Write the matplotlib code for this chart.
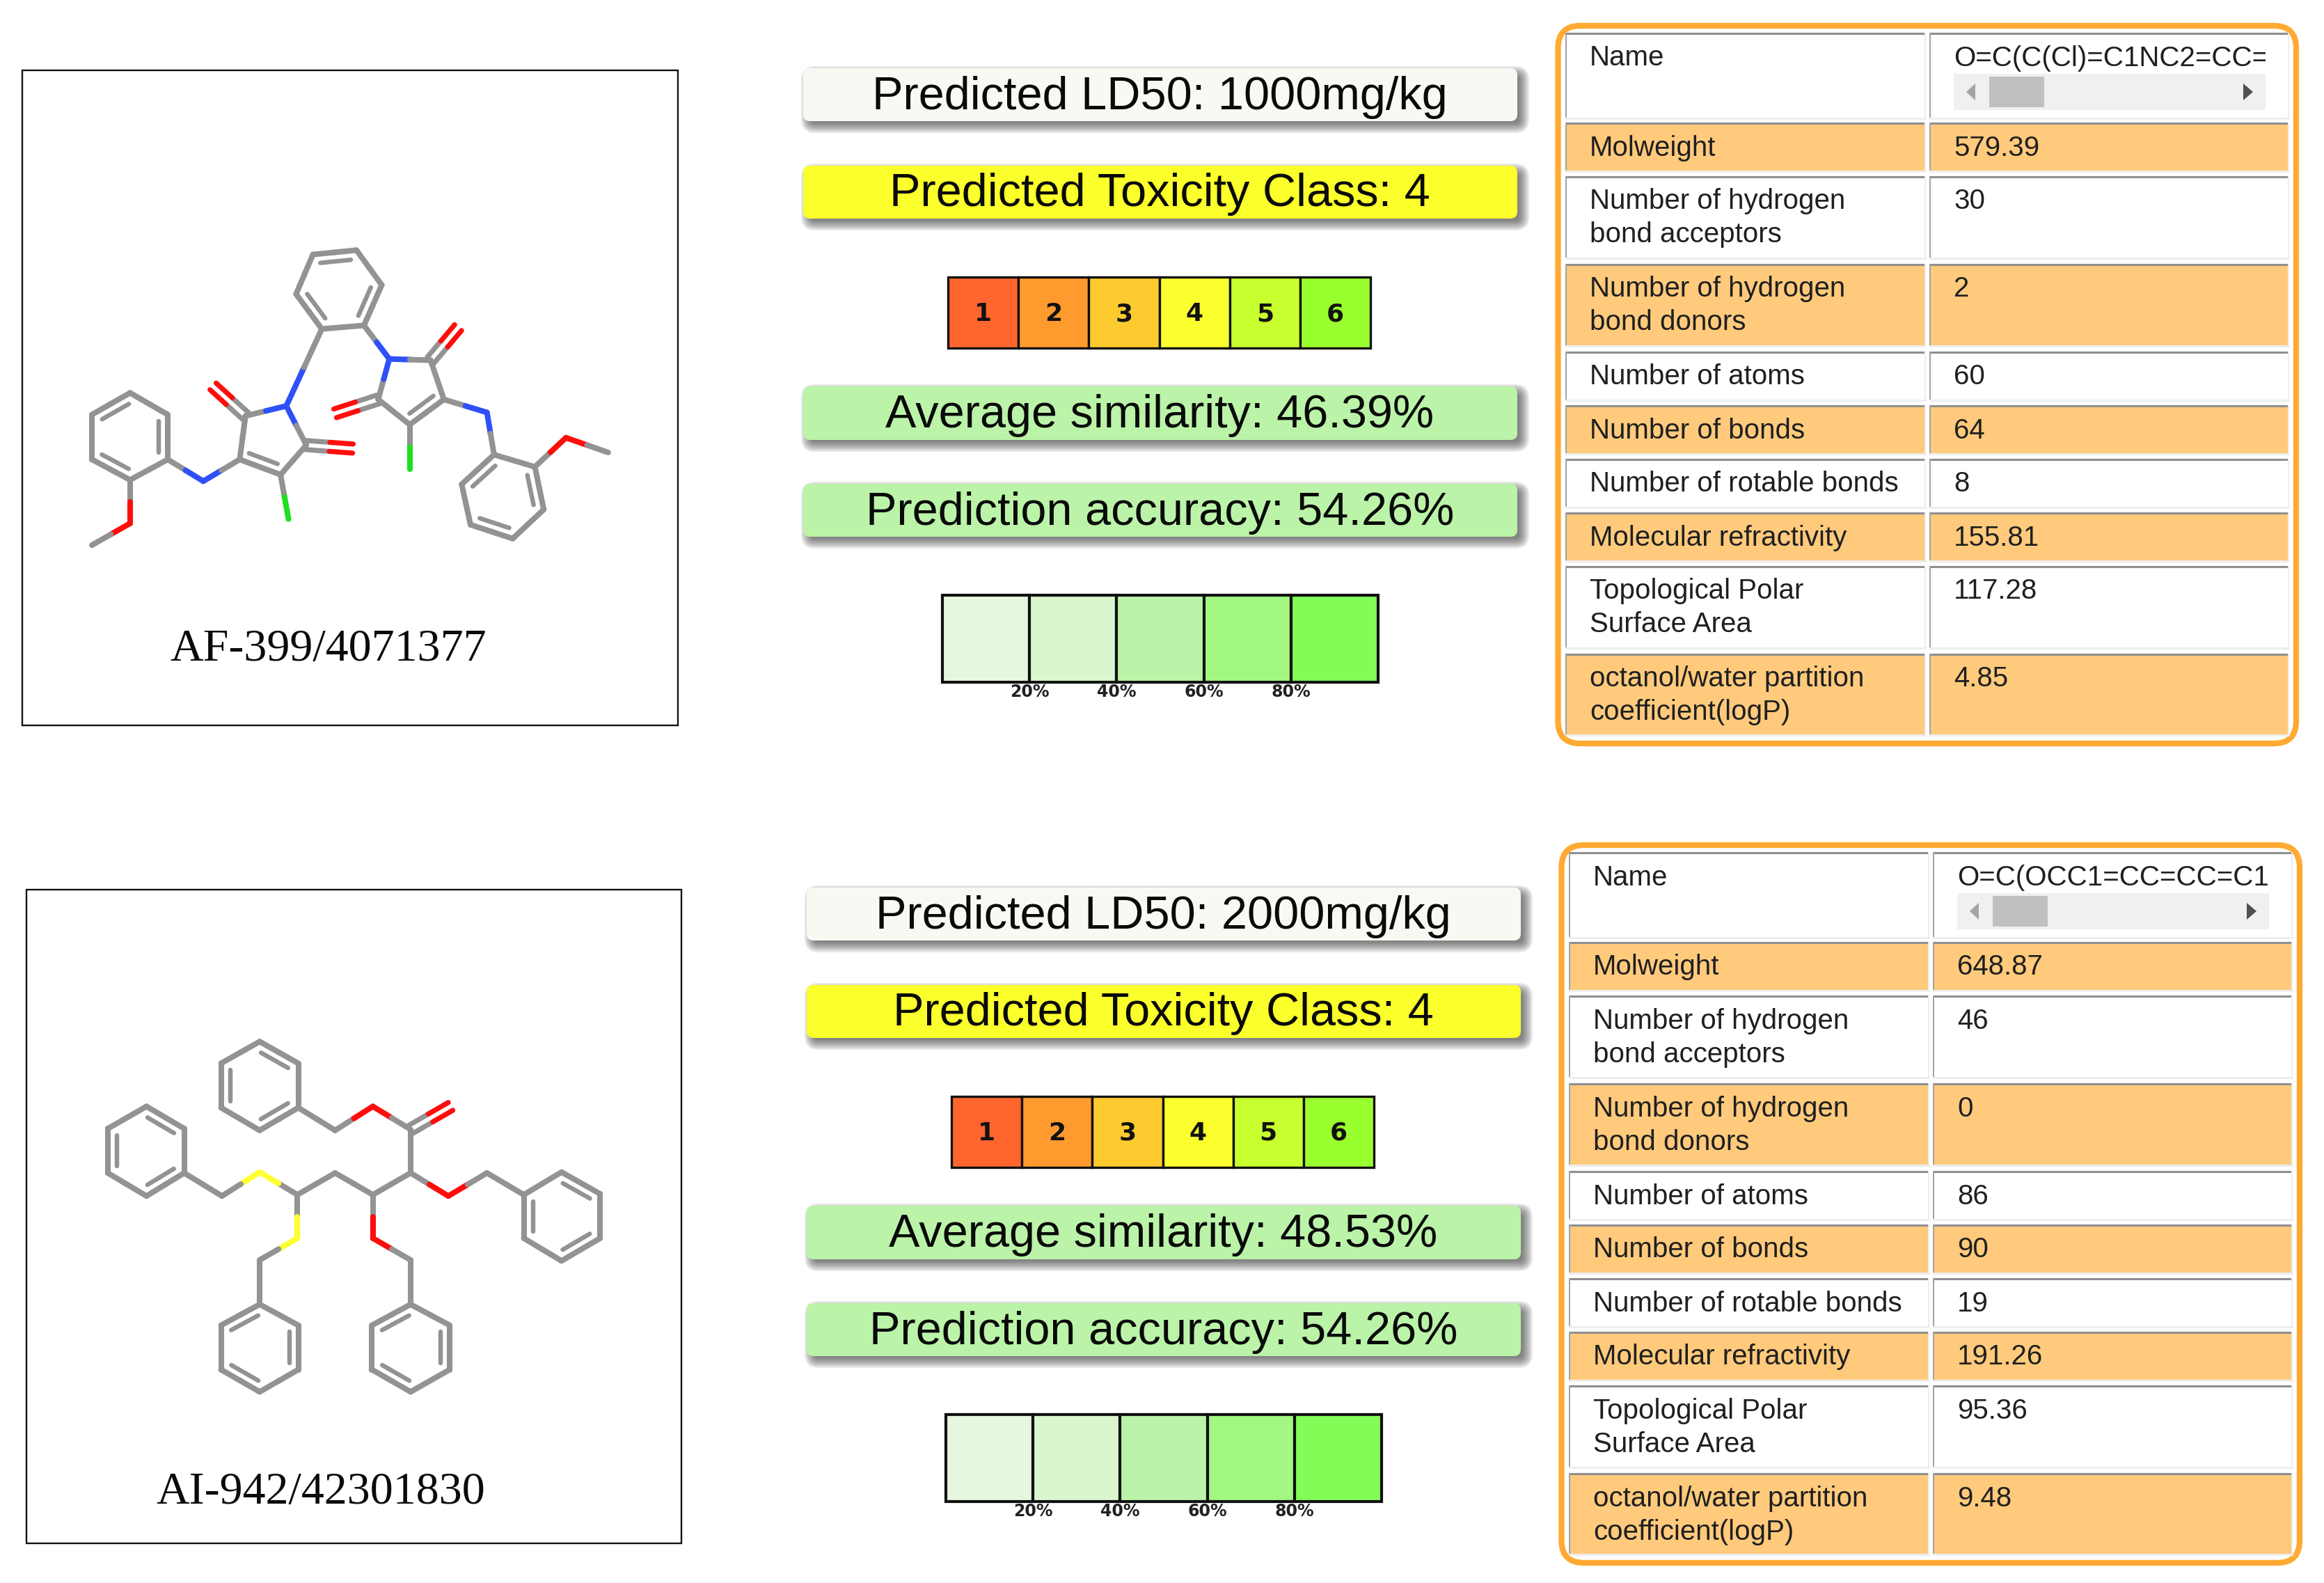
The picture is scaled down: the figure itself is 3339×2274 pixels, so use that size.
import matplotlib
matplotlib.use('Agg')
import matplotlib.pyplot as plt
from matplotlib.patches import Rectangle, FancyBboxPatch, Polygon

W, H = 3339, 2274
SANS = 'Liberation Sans'
SERIF = 'Liberation Serif'

# ---- values ----
row_labels = ['Name', 'Molweight', 'Number of hydrogen\nbond acceptors',
              'Number of hydrogen\nbond donors', 'Number of atoms',
              'Number of bonds', 'Number of rotable bonds',
              'Molecular refractivity', 'Topological Polar\nSurface Area',
              'octanol/water partition\ncoefficient(logP)']
values_top = ['O=C(C(Cl)=C1NC2=CC=CC=C2', '579.39', '30', '2', '60', '64', '8',
              '155.81', '117.28', '4.85']
values_bottom = ['O=C(OCC1=CC=CC=C1)C(OCC', '648.87', '46', '0', '86', '90', '19',
                 '191.26', '95.36', '9.48']
ld50 = ['1000', '2000']
tox_class = [4, 4]
similarity = ['46.39', '48.53']
accuracy = ['54.26', '54.26']
compound_ids = ['AF-399/4071377', 'AI-942/42301830']
class_labels = ['1', '2', '3', '4', '5', '6']
class_colors = ['#ff662e', '#ff9a2e', '#fdca30', '#fbff2e', '#c8ff2e', '#9aff2e']
sim_labels = ['20%', '40%', '60%', '80%']
sim_colors = ['#e6f7df', '#d9f6cf', '#bbf4a8', '#a2f881', '#83fc57']

# atoms are (x, y, element), in units of the molecule drawing
mol1_atoms = [
    (293, 775, 'C'), (378, 825, 'C'), (378, 928, 'C'), (293, 975, 'C'), (207, 928, 'C'), (207, 825, 'C'),
    (293, 1075, 'O'), (207, 1125, 'C'), (458, 978, 'N'), (540, 928, 'C'), (553, 828, 'C'), (645, 805, 'N'),
    (690, 895, 'C'), (632, 963, 'C'), (480, 760, 'O'), (795, 903, 'O'), (650, 1065, 'Cl'),
    (725, 628, 'C'), (820, 620, 'C'), (860, 527, 'C'), (803, 447, 'C'), (705, 457, 'C'), (667, 548, 'C'),
    (877, 697, 'N'), (970, 700, 'C'), (1000, 790, 'C'), (923, 848, 'C'), (852, 790, 'C'),
    (1032, 625, 'O'), (755, 822, 'O'), (923, 950, 'Cl'), (1097, 820, 'N'),
    (1113, 917, 'C'), (1205, 945, 'C'), (1225, 1043, 'C'), (1155, 1110, 'C'), (1060, 1078, 'C'), (1040, 985, 'C'),
    (1275, 878, 'O'), (1370, 912, 'C')]
mol1_single = [(0, 1), (1, 2), (2, 3), (3, 4), (4, 5), (5, 0), (3, 6), (6, 7), (2, 8), (8, 9), (9, 10), (10, 11),
               (11, 12), (12, 13), (13, 9), (11, 17), (17, 18), (18, 19), (19, 20), (20, 21), (21, 22), (22, 17),
               (18, 23), (23, 24), (24, 25), (25, 26), (26, 27), (27, 23), (26, 30), (13, 16), (25, 31), (31, 32),
               (32, 33), (33, 34), (34, 35), (35, 36), (36, 37), (37, 32), (33, 38), (38, 39)]
mol1_carbonyl = [(10, 14), (12, 15), (24, 28), (27, 29)]
# ring double bond: the third atom says which side the inner line is on
mol1_inner = [(5, 0, 2), (1, 2, 4), (3, 4, 0), (9, 13, 11), (17, 22, 19), (18, 19, 21), (20, 21, 17),
              (25, 26, 23), (33, 34, 36), (35, 36, 33), (37, 32, 34)]

mol2_atoms = [
    (585, 378, 'C'), (672, 428, 'C'), (672, 530, 'C'), (585, 582, 'C'), (498, 530, 'C'), (498, 428, 'C'),
    (755, 582, 'C'), (840, 527, 'O'), (925, 580, 'C'), (1015, 527, 'O'), (925, 680, 'C'), (1010, 733, 'O'),
    (1097, 680, 'C'), (1180, 730, 'C'), (1265, 678, 'C'), (1352, 728, 'C'), (1352, 830, 'C'), (1265, 882, 'C'),
    (1180, 830, 'C'), (840, 730, 'C'), (840, 830, 'O'), (925, 880, 'C'), (925, 982, 'C'), (1013, 1030, 'C'),
    (1013, 1132, 'C'), (925, 1183, 'C'), (838, 1132, 'C'), (838, 1030, 'C'), (755, 680, 'C'), (670, 730, 'C'),
    (585, 678, 'S'), (500, 733, 'C'), (415, 680, 'C'), (415, 578, 'C'), (330, 527, 'C'), (243, 578, 'C'),
    (243, 680, 'C'), (330, 733, 'C'), (670, 830, 'S'), (585, 880, 'C'), (585, 982, 'C'), (672, 1030, 'C'),
    (672, 1132, 'C'), (585, 1183, 'C'), (498, 1132, 'C'), (498, 1030, 'C')]
mol2_single = [(0, 1), (1, 2), (2, 3), (3, 4), (4, 5), (5, 0), (2, 6), (6, 7), (7, 8), (8, 10), (10, 11), (11, 12),
               (12, 13), (13, 14), (14, 15), (15, 16), (16, 17), (17, 18), (18, 13), (10, 19), (19, 20), (20, 21),
               (21, 22), (22, 23), (23, 24), (24, 25), (25, 26), (26, 27), (27, 22), (19, 28), (28, 29), (29, 30),
               (30, 31), (31, 32), (32, 33), (33, 34), (34, 35), (35, 36), (36, 37), (37, 32), (29, 38), (38, 39),
               (39, 40), (40, 41), (41, 42), (42, 43), (43, 44), (44, 45), (45, 40)]
mol2_carbonyl = [(8, 9)]
mol2_inner = [(0, 1, 3), (2, 3, 5), (4, 5, 1), (14, 15, 17), (16, 17, 13), (18, 13, 15), (22, 27, 24),
              (23, 24, 26), (25, 26, 22), (33, 34, 36), (35, 36, 32), (37, 32, 34), (40, 45, 42),
              (41, 42, 44), (43, 44, 40)]

atom_colors = {'C': '#939393', 'N': '#2f50f8', 'O': '#ff0d0d', 'Cl': '#1fe01f', 'S': '#ffff30'}
BOND_LW = 5.8
MOL_SX = 1 / 1.568
MOL_SY = 1 / 1.6
TABLE_FS = 29


def half_bond(ax, p, q, el_p, el_q, lw=BOND_LW):
    # each half of a bond takes the colour of its own atom
    mx, my = (p[0] + q[0]) / 2, (p[1] + q[1]) / 2
    ax.plot([p[0], mx], [p[1], my], color=atom_colors[el_p], lw=lw, solid_capstyle='round', zorder=3)
    ax.plot([mx, q[0]], [my, q[1]], color=atom_colors[el_q], lw=lw, solid_capstyle='round', zorder=3)


def draw_molecule(ax, atoms, single, carbonyl, inner, ox, oy):
    pts = [(ox + a[0] * MOL_SX, oy + a[1] * MOL_SY) for a in atoms]
    els = [a[2] for a in atoms]
    for i, j in single:
        half_bond(ax, pts[i], pts[j], els[i], els[j])
    for i, j in carbonyl:
        p, q = pts[i], pts[j]
        dx, dy = q[0] - p[0], q[1] - p[1]
        n = (dx ** 2 + dy ** 2) ** 0.5
        nx, ny = -dy / n * 6.5, dx / n * 6.5
        half_bond(ax, (p[0] + nx, p[1] + ny), (q[0] + nx, q[1] + ny), els[i], els[j], lw=BOND_LW * 0.9)
        half_bond(ax, (p[0] - nx, p[1] - ny), (q[0] - nx, q[1] - ny), els[i], els[j], lw=BOND_LW * 0.9)
    for i, j, k in inner:
        p, q, s = pts[i], pts[j], pts[k]
        dx, dy = q[0] - p[0], q[1] - p[1]
        n = (dx ** 2 + dy ** 2) ** 0.5
        nx, ny = -dy / n, dx / n
        if (s[0] - p[0]) * nx + (s[1] - p[1]) * ny < 0:
            nx, ny = -nx, -ny
        a = (p[0] + dx * 0.15 + nx * 13, p[1] + dy * 0.15 + ny * 13)
        b = (p[0] + dx * 0.85 + nx * 13, p[1] + dy * 0.85 + ny * 13)
        ax.plot([a[0], b[0]], [a[1], b[1]], color=atom_colors['C'], lw=BOND_LW * 0.8,
                solid_capstyle='round', zorder=3)


def badge(ax, x0, y0, x1, y1, color, text, base):
    r = 10
    # soft shadow, down and to the right
    for k in range(8):
        pad = r + 10 - k * 2
        ax.add_patch(FancyBboxPatch((x0 + 7 + r, y0 + 7 + r), x1 - x0 - 2 * r, y1 - y0 - 2 * r,
                                    boxstyle='round,pad=%g,rounding_size=%g' % (pad, pad),
                                    fc='#303030', ec='none', alpha=0.10, zorder=1))
    ax.add_patch(FancyBboxPatch((x0 + r, y0 + r), x1 - x0 - 2 * r, y1 - y0 - 2 * r,
                                boxstyle='round,pad=%g,rounding_size=%g' % (r, r),
                                fc=color, ec='none', zorder=2))
    ax.text((x0 + x1) / 2 - 0.5, base, text, ha='center', va='baseline', family=SANS, fontsize=48,
            color='#0a0a0a', zorder=4)


def draw_table(ax, ox, oy, values):
    tops = [48, 177, 254, 380, 506, 583, 660, 737, 814, 940]
    bots = [170, 246, 371, 497, 575, 652, 729, 806, 931, 1056]
    cols = [(2250, 2766), (2773, 3288)]
    ax.add_patch(FancyBboxPatch((ox + 2238.5 + 32, oy + 37 + 32), 1060.5 - 64, 1031 - 64,
                                boxstyle='round,pad=32,rounding_size=32', fc='white', ec='#ffaa33',
                                lw=6, zorder=1))
    for r, (t, b) in enumerate(zip(tops, bots)):
        fc = '#ffca7c' if r % 2 else 'white'
        for x0, x1 in cols:
            ax.add_patch(Rectangle((ox + x0, oy + t), x1 - x0, b - t, fc=fc, ec='none', zorder=2))
            ax.plot([ox + x0, ox + x1], [oy + t, oy + t], color='#8f8f8f', lw=2.2, zorder=3, solid_capstyle='butt')
            ax.plot([ox + x0, ox + x0], [oy + t, oy + b], color='#a0a0a0', lw=1.4, zorder=3)
            ax.plot([ox + x0, ox + x1], [oy + b, oy + b], color='#eeeeee', lw=2.2, zorder=3)
            ax.plot([ox + x1, ox + x1], [oy + t, oy + b], color='#eeeeee', lw=1.4, zorder=3)
        # multi-line labels go line by line so the first baseline stays put
        for n, line in enumerate(row_labels[r].split('\n')):
            ax.text(ox + 2284, oy + t + 46.5 + n * 48, line, ha='left', va='baseline', family=SANS,
                    fontsize=TABLE_FS, color='#1f1f1f', zorder=4)
        if r == 0:
            continue
        ax.text(ox + 2807, oy + t + 46.5, values[r], ha='left', va='baseline', family=SANS, fontsize=TABLE_FS,
                color='#1f1f1f', zorder=4)
    # first row: long SMILES string cut off by its scroll box
    clip = Rectangle((ox + 2807, oy + 48), 448, 122, transform=ax.transData)
    smiles = ax.text(ox + 2807, oy + 48 + 47, values[0], ha='left', va='baseline', family=SANS, fontsize=TABLE_FS,
                     color='#1f1f1f', zorder=4)
    smiles.set_clip_path(clip)
    smiles.set_clip_on(True)
    ax.add_patch(Rectangle((ox + 2807, oy + 106), 448, 52, fc='#f0f0f0', ec='none', zorder=4))
    ax.add_patch(Rectangle((ox + 2858, oy + 110), 79, 44, fc='#c0c0c0', ec='none', zorder=5))
    ax.add_patch(Polygon([(ox + 2838, oy + 120), (ox + 2838, oy + 144), (ox + 2825, oy + 132)], fc='#a3a3a3', ec='none', zorder=5))
    ax.add_patch(Polygon([(ox + 3223, oy + 120), (ox + 3223, oy + 144), (ox + 3237, oy + 132)], fc='#505050', ec='none', zorder=5))


def draw_panel(ax, idx, ox, oy, values):
    badge(ax, ox + 1154, oy + 98, ox + 2180, oy + 174, '#f7f9f3', 'Predicted LD50: %smg/kg' % ld50[idx], oy + 157)
    badge(ax, ox + 1154, oy + 238, ox + 2180, oy + 314, '#fbff2b', 'Predicted Toxicity Class: %d' % tox_class[idx], oy + 296)
    badge(ax, ox + 1154, oy + 555, ox + 2180, oy + 632, '#bbf4a8', 'Average similarity: %s%%' % similarity[idx], oy + 614)
    badge(ax, ox + 1154, oy + 695, ox + 2180, oy + 771, '#bbf4a8', 'Prediction accuracy: %s%%' % accuracy[idx], oy + 754)

    # toxicity class strip
    x0, w = ox + 1362, 607 / 6
    for i, lab in enumerate(class_labels):
        ax.add_patch(Rectangle((x0 + i * w, oy + 398), w, 102, fc=class_colors[i], ec='#111111', lw=2.4, zorder=2))
        ax.text(x0 + (i + 0.5) * w, oy + 451, lab, ha='center', va='center', family='DejaVu Sans',
                fontweight='bold', fontsize=26, color='#111111', zorder=4)

    # similarity strip
    x0, w = ox + 1354, 626 / 5
    for i, col in enumerate(sim_colors):
        ax.add_patch(Rectangle((x0 + i * w, oy + 855), w, 125, fc=col, ec='#111111', lw=3, zorder=2))
    for i, lab in enumerate(sim_labels):
        ax.text(x0 + (i + 1) * w, oy + 994, lab, ha='center', va='center', family='DejaVu Sans',
                fontsize=17, fontweight='bold', color='#222222', zorder=4)

    draw_table(ax, ox, oy, values)


fig = plt.figure(figsize=(W / 100, H / 100), dpi=100)
ax = fig.add_axes([0, 0, 1, 1])
ax.set_xlim(0, W)
ax.set_ylim(H, 0)
ax.axis('off')

# molecule boxes
ax.add_patch(Rectangle((32, 101), 942, 941, fc='white', ec='#111111', lw=1.7, zorder=1))
ax.add_patch(Rectangle((38, 1278), 941, 939, fc='white', ec='#111111', lw=1.7, zorder=1))
draw_molecule(ax, mol1_atoms, mol1_single, mol1_carbonyl, mol1_inner, 0, 80)
draw_molecule(ax, mol2_atoms, mol2_single, mol2_carbonyl, mol2_inner, 0, 1260)
ax.text(472, 949, compound_ids[0], ha='center', va='baseline', family=SERIF, fontsize=47.5, color='#0a0a0a')
ax.text(461, 2160, compound_ids[1], ha='center', va='baseline', family=SERIF, fontsize=47.5, color='#0a0a0a')

draw_panel(ax, 0, 0, 0, values_top)
draw_panel(ax, 1, 5, 1177, values_bottom)

fig.savefig('out.png', dpi=100)
